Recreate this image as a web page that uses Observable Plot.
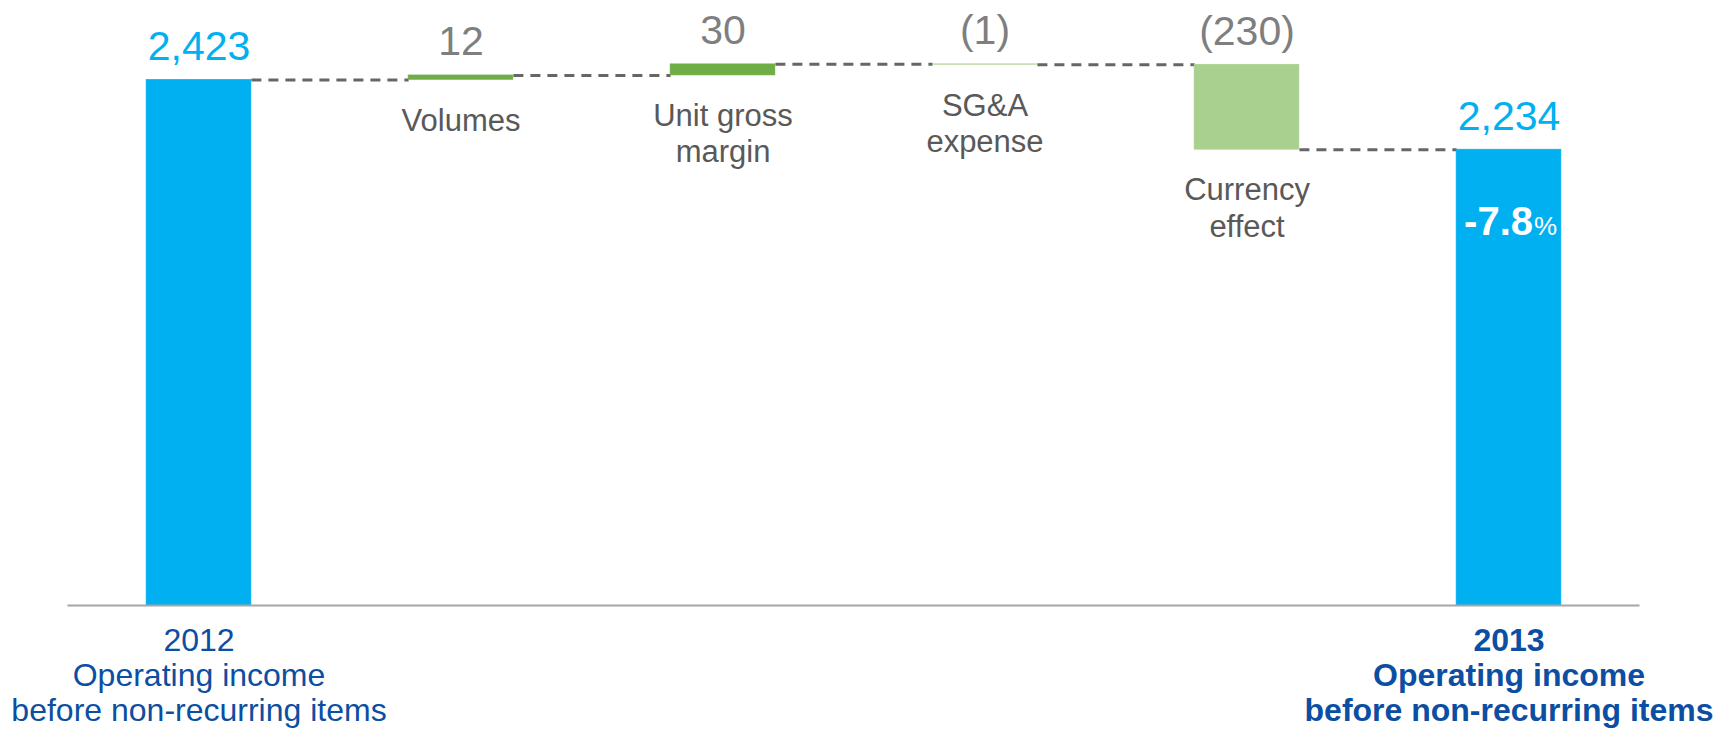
<!DOCTYPE html>
<html>
<head>
<meta charset="utf-8">
<script src="https://cdn.jsdelivr.net/npm/d3@7"></script>
<script src="https://cdn.jsdelivr.net/npm/@observablehq/plot@0.6"></script>
<style>
  html, body { margin: 0; padding: 0; background: #ffffff; }
</style>
</head>
<body>
<div id="chart"></div>
<script>
// ---- Data (operating income bridge, 2012 -> 2013) ----
const steps = ["2012 Operating income", "Volumes", "Unit gross margin", "SG&A expense", "Currency effect", "2013 Operating income"];
const stepKinds = ["total", "delta", "delta", "delta", "delta", "total"];
const stepValues = [2423, 12, 30, -1, -230, 2234];
const valueLabels = ["2,423", "12", "30", "(1)", "(230)", "2,234"];
const stepLabels = ["", "Volumes", "Unit gross\nmargin", "SG&A\nexpense", "Currency\neffect", ""];
const baseLabels = [
  "2012\nOperating income\nbefore non-recurring items",
  "", "", "", "",
  "2013\nOperating income\nbefore non-recurring items"
];
const changeValue = "-7.8";
const changeUnit = "%";
const axisFloor = 1000;

// ---- Build waterfall rows ----
let running = 0;
const rows = steps.map((name, i) => {
  const v = stepValues[i];
  let start, end, kind;
  if (stepKinds[i] === "total") {
    start = axisFloor; end = v; kind = "total";
  } else {
    start = running; end = running + v; kind = v >= 0 ? "up" : "down";
  }
  running = end;
  return {
    i, name, start, end, kind,
    top: Math.max(start, end),
    bottom: Math.min(start, end),
    label: valueLabels[i],
    cat: stepLabels[i],
    base: baseLabels[i]
  };
});
const connectors = rows.slice(0, -1).map(r => ({i: r.i, level: r.end}));
const totals = rows.filter(r => r.kind === "total");
const deltas = rows.filter(r => r.kind !== "total");
const half = 0.2;

const font = "'Liberation Sans', Arial, Helvetica, sans-serif";

const chart = Plot.plot({
  width: 1735,
  height: 731,
  marginLeft: 67.5,
  marginRight: 95.5,
  marginTop: 14,
  marginBottom: 126,
  style: {fontFamily: font, background: "#ffffff", overflow: "visible"},
  x: {type: "linear", domain: [-0.5, 5.5], axis: null},
  y: {domain: [axisFloor, 2600], axis: null},
  color: {domain: ["total", "up", "down"], range: ["#00b0f0", "#70ad47", "#a9d08e"]},
  marks: [
    Plot.link(connectors, {
      x1: d => d.i + half, x2: d => d.i + 1 - half,
      y1: "level", y2: "level",
      stroke: "#666666", strokeWidth: 3, strokeDasharray: "10,7"
    }),
    Plot.rect(rows, {
      x1: d => d.i - half, x2: d => d.i + half,
      y1: "start", y2: "end",
      fill: "kind", stroke: "kind", strokeWidth: 0.6
    }),
    Plot.ruleY([axisFloor], {stroke: "#a6a6a6", strokeWidth: 2}),
    // value labels
    Plot.text(totals, {
      x: "i", y: "top", text: "label", fill: "#00b0f0",
      fontSize: 41, lineAnchor: "bottom", dy: -20
    }),
    Plot.text(deltas, {
      x: "i", y: "top", text: "label", fill: "#7f7f7f",
      fontSize: 41, lineAnchor: "bottom", dy: -20
    }),
    // category labels under the floating bars
    Plot.text(deltas, {
      x: "i", y: "bottom", text: "cat", fill: "#595959",
      fontSize: 31, lineAnchor: "top", lineHeight: 1.17, dy: 25
    }),
    // base labels under the total bars
    Plot.text([totals[0]], {
      x: "i", y: () => axisFloor, text: "base", fill: "#0b4ea2",
      fontSize: 32, lineAnchor: "top", lineHeight: 1.1, dy: 20
    }),
    Plot.text([totals[1]], {
      x: "i", y: () => axisFloor, text: "base", fill: "#0b4ea2",
      fontSize: 32, fontWeight: "bold", lineAnchor: "top", lineHeight: 1.1, dy: 20
    }),
    // change percentage inside the 2013 bar
    Plot.text([totals[1]], {
      x: "i", y: "end", text: () => changeValue, fill: "#ffffff",
      fontSize: 40, fontWeight: "bold", textAnchor: "end", lineAnchor: "bottom",
      dx: 24, dy: 85
    }),
    Plot.text([totals[1]], {
      x: "i", y: "end", text: () => changeUnit, fill: "#ffffff",
      fontSize: 26, textAnchor: "start", lineAnchor: "bottom",
      dx: 25, dy: 85
    })
  ]
});

document.getElementById("chart").appendChild(chart);
</script>
</body>
</html>
